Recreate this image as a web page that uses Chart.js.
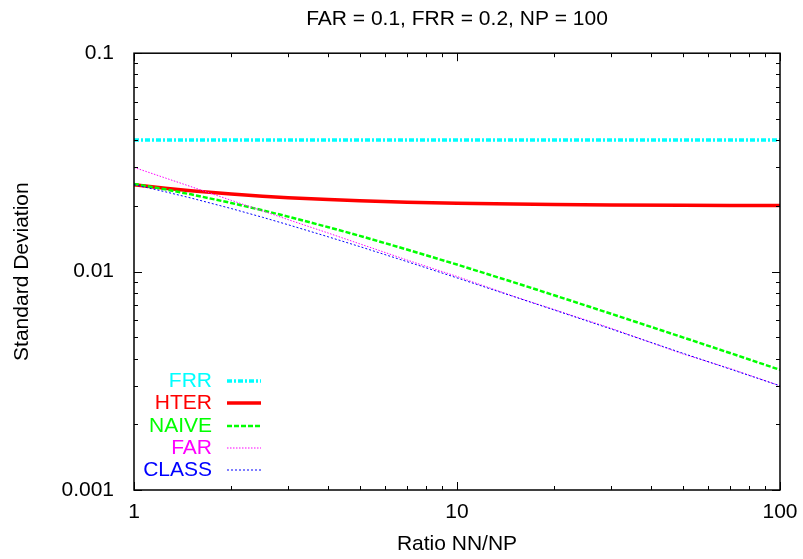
<!DOCTYPE html>
<html>
<head>
<meta charset="utf-8">
<script src="https://cdn.jsdelivr.net/npm/chart.js@4/dist/chart.umd.min.js"></script>
<style>
  html, body { margin: 0; padding: 0; background: #fff; }
  canvas { display: block; }
</style>
</head>
<body>
<canvas id="sdChart" width="803" height="559"></canvas>
<script>
// ratio NN/NP sample points
const ratios = [1, 1.25, 1.5, 2, 2.5, 3, 4, 5, 7, 10, 15, 20, 30, 50, 70, 100];

// standard deviation
const frrSd   = [0.04, 0.04, 0.04, 0.04, 0.04, 0.04, 0.04, 0.04, 0.04, 0.04, 0.04, 0.04, 0.04, 0.04, 0.04, 0.04];
const hterSd  = [0.025, 0.0241, 0.02345, 0.02264, 0.02214, 0.0218, 0.02136, 0.0211, 0.0208, 0.02055, 0.0204, 0.02028, 0.02019, 0.02011, 0.0201, 0.02006];
const naiveSd = [0.0252, 0.0238, 0.02258, 0.02062, 0.01909, 0.01785, 0.01597, 0.01458, 0.01262, 0.01077, 0.00893, 0.00779, 0.00641, 0.005, 0.00424, 0.00355];
const farSd   = [0.03, 0.02683, 0.0245, 0.0212, 0.01897, 0.0173, 0.015, 0.0134, 0.0113, 0.0095, 0.0077, 0.0067, 0.0055, 0.0042, 0.0036, 0.003];
const classSd = [0.025, 0.0232, 0.02173, 0.01944, 0.01773, 0.01639, 0.01442, 0.01302, 0.01111, 0.00936, 0.00768, 0.00667, 0.00546, 0.00423, 0.00358, 0.003];

const xTicks = [1, 10, 100];
const yTicks = [0.001, 0.01, 0.1];
const minorSteps = [2, 3, 4, 5, 6, 7, 8, 9];

const FONT = "'Liberation Sans', Arial, sans-serif";
const FS = 21;

function pts(ys) {
  return ratios.map((x, i) => ({ x: x, y: ys[i] }));
}

const series = [
  { label: "FRR",   data: pts(frrSd),   borderColor: "#00ffff", borderWidth: 3.5, borderDash: [5, 2, 2, 2], order: 5 },
  { label: "HTER",  data: pts(hterSd),  borderColor: "#ff0000", borderWidth: 3.5, borderDash: [],           order: 4 },
  { label: "NAIVE", data: pts(naiveSd), borderColor: "#00ff00", borderWidth: 2.5, borderDash: [5, 2],       order: 3 },
  { label: "FAR",   data: pts(farSd),   borderColor: "#ff00ff", borderWidth: 1,   borderDash: [1.5, 1.5],   order: 2 },
  { label: "CLASS", data: pts(classSd), borderColor: "#0000ff", borderWidth: 1,   borderDash: [2, 2],       order: 1 }
];

// frame, inward ticks (gnuplot style) and the key
const framePlugin = {
  id: "frame",
  afterDatasetsDraw(chart) {
    const { ctx, chartArea: a, scales } = chart;
    ctx.save();
    ctx.strokeStyle = "#000";
    ctx.lineWidth = 1;
    const tick = (x1, y1, x2, y2) => {
      ctx.beginPath(); ctx.moveTo(x1, y1); ctx.lineTo(x2, y2); ctx.stroke();
    };
    for (let d = 1; d <= 100; d *= 10) {
      if (d < 100) {
        minorSteps.forEach(m => {
          const px = Math.round(scales.x.getPixelForValue(d * m)) + 0.5;
          tick(px, a.bottom, px, a.bottom - 4);
          tick(px, a.top, px, a.top + 4);
        });
      }
      const px = Math.round(scales.x.getPixelForValue(d)) + 0.5;
      tick(px, a.bottom, px, a.bottom - 8);
      tick(px, a.top, px, a.top + 8);
    }
    for (let d = 0.001; d <= 0.11; d *= 10) {
      if (d < 0.05) {
        minorSteps.forEach(m => {
          const py = Math.round(scales.y.getPixelForValue(d * m)) + 0.5;
          tick(a.left, py, a.left + 4, py);
          tick(a.right, py, a.right - 4, py);
        });
      }
      const py = Math.round(scales.y.getPixelForValue(d)) + 0.5;
      tick(a.left, py, a.left + 8, py);
      tick(a.right, py, a.right - 8, py);
    }
    ctx.lineWidth = 1.5;
    ctx.strokeRect(a.left, a.top, a.right - a.left, a.bottom - a.top);

    // key
    ctx.font = FS + "px " + FONT;
    ctx.textAlign = "right";
    ctx.textBaseline = "middle";
    const rowY = [381, 403, 426, 448, 470];
    series.forEach((s, i) => {
      const y = rowY[i];
      ctx.fillStyle = s.borderColor;
      ctx.fillText(s.label, 212, y);
      ctx.strokeStyle = s.borderColor;
      ctx.lineWidth = s.borderWidth;
      ctx.setLineDash(s.borderDash);
      ctx.beginPath(); ctx.moveTo(227, y); ctx.lineTo(261, y); ctx.stroke();
      ctx.setLineDash([]);
    });
    ctx.restore();
  }
};

new Chart(document.getElementById("sdChart").getContext("2d"), {
  type: "line",
  data: {
    datasets: series.map(s => ({
      ...s,
      fill: false,
      pointRadius: 0,
      tension: 0,
      borderCapStyle: "butt"
    }))
  },
  options: {
    responsive: false,
    animation: false,
    layout: { padding: { left: 0, right: 23, top: 0, bottom: 0 } },
    plugins: {
      legend: { display: false },
      tooltip: { enabled: false },
      title: {
        display: true,
        fullSize: false,
        text: "FAR = 0.1, FRR = 0.2, NP = 100",
        color: "#000",
        font: { family: FONT, size: FS, weight: "normal" },
        padding: { top: 7, bottom: 21 }
      }
    },
    scales: {
      x: {
        type: "logarithmic",
        min: 1,
        max: 100,
        grid: { display: false, drawTicks: false },
        border: { display: false },
        afterBuildTicks: s => { s.ticks = xTicks.map(v => ({ value: v })); },
        afterFit: s => { s.height = 69; s.paddingLeft = 0; s.paddingRight = 0; },
        ticks: {
          autoSkip: false,
          maxRotation: 0,
          padding: 10,
          color: "#000",
          font: { family: FONT, size: FS },
          callback: v => String(v)
        },
        title: {
          display: true,
          text: "Ratio NN/NP",
          color: "#000",
          font: { family: FONT, size: FS },
          padding: { top: 0, bottom: 2 }
        }
      },
      y: {
        type: "logarithmic",
        min: 0.001,
        max: 0.1,
        grid: { display: false, drawTicks: false },
        border: { display: false },
        afterBuildTicks: s => { s.ticks = yTicks.map(v => ({ value: v })); },
        afterFit: s => { s.width = 134; s.paddingTop = 0; s.paddingBottom = 0; },
        ticks: {
          autoSkip: false,
          padding: 20,
          color: "#000",
          font: { family: FONT, size: FS },
          callback: v => String(v)
        },
        title: {
          display: true,
          text: "Standard Deviation",
          color: "#000",
          font: { family: FONT, size: FS },
          padding: { top: 10, bottom: 0 }
        }
      }
    }
  },
  plugins: [framePlugin]
});
</script>
</body>
</html>
